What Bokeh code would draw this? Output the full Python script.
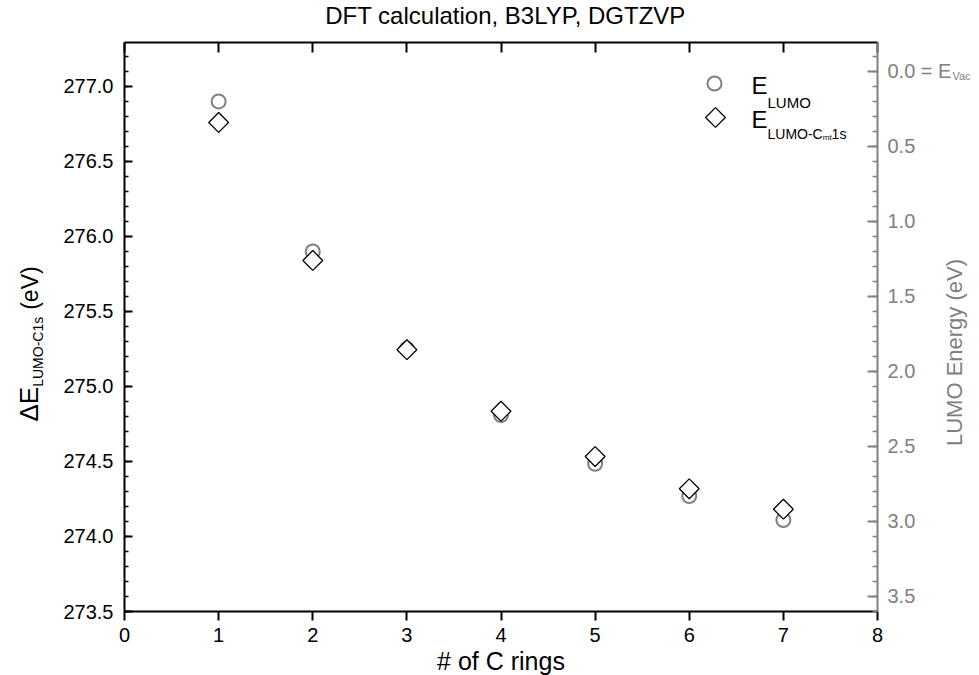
import math
from bokeh.plotting import figure
from bokeh.models import (Range1d, LinearAxis, Label, SingleIntervalTicker,
                          FixedTicker, PrintfTickFormatter)
from bokeh.embed import file_html
from bokeh.resources import INLINE

# ---------------- data ----------------
n_rings = [1, 2, 3, 4, 5, 6, 7]
e_lumo = [0.20, 1.20, 1.85, 2.29, 2.615, 2.83, 2.99]                 # right axis (eV below vacuum)
de_lumo_c1s = [276.76, 275.84, 275.245, 274.835, 274.533, 274.318, 274.182]  # left axis
x_ticks = [0, 1, 2, 3, 4, 5, 6, 7, 8]

title_text = "DFT calculation, B3LYP, DGTZVP"
x_label = "# of C rings"
right_label = "LUMO Energy (eV)"

# ---------------- layout ----------------
W, H = 979, 675
FL, FT, FR, FB = 124, 42, 877, 611          # axis box edges in canvas px
X0, X1 = 0.0, 8.0
YL0, YL1 = 273.5, 277.293
YR0, YR1 = 3.6, -0.193                      # right axis: YR0 at bottom, YR1 at top

FONT = "Liberation Sans"
GRAY = "#808080"

# the frame fills the whole canvas; the axes are fixed at the box edges
sx_ = (X1 - X0) / (FR - FL)
syl = (YL1 - YL0) / (FB - FT)
syr = (YR1 - YR0) / (FB - FT)
xr = Range1d(X0 - FL * sx_, X1 + (W - FR) * sx_)
ylr = Range1d(YL0 - (H - FB) * syl, YL1 + FT * syl)
yrr = Range1d(start=YR0 - (H - FB) * syr, end=YR1 + FT * syr)

p = figure(width=W, height=H, x_range=xr, y_range=ylr,
           output_backend="svg", toolbar_location=None,
           x_axis_location=None, y_axis_location=None,
           min_border=0, min_border_left=0, min_border_right=0,
           min_border_top=0, min_border_bottom=0)
p.extra_y_ranges = {"lumo": yrr}
p.outline_line_color = None
p.grid.visible = False
p.background_fill_color = "white"
p.border_fill_color = "white"

# bottom axis
xa = LinearAxis(ticker=FixedTicker(ticks=x_ticks), fixed_location=YL0, bounds=(X0, X1),
                major_tick_in=0, major_tick_out=9, minor_tick_line_color=None,
                axis_line_width=2, major_tick_line_width=2, major_label_standoff=7,
                major_label_text_font=FONT, major_label_text_font_size="20px",
                major_label_text_color="black")
p.add_layout(xa, "below")

# top axis (ticks only)
ta = LinearAxis(ticker=FixedTicker(ticks=x_ticks), fixed_location=YL1, bounds=(X0, X1),
                major_tick_in=10, major_tick_out=0, minor_tick_line_color=None,
                axis_line_width=2, major_tick_line_width=2,
                major_label_overrides={t: "" for t in x_ticks},
                major_label_text_font_size="1px", major_label_standoff=0)
p.add_layout(ta, "above")

# left axis
ya = LinearAxis(ticker=SingleIntervalTicker(interval=0.5, num_minor_ticks=5),
                formatter=PrintfTickFormatter(format="%.1f"),
                fixed_location=X0, bounds=(YL0, YL1),
                major_tick_in=8, major_tick_out=0, minor_tick_in=4, minor_tick_out=0,
                axis_line_width=2, major_tick_line_width=2, minor_tick_line_width=1.5,
                major_label_standoff=11, major_label_text_font=FONT,
                major_label_text_font_size="20px", major_label_text_color="black")
p.add_layout(ya, "left")

# right axis (gray, inverted)
ra = LinearAxis(y_range_name="lumo",
                ticker=SingleIntervalTicker(interval=0.5, num_minor_ticks=5),
                formatter=PrintfTickFormatter(format="%.1f"),
                major_label_overrides={0: "0.0 = E"},
                fixed_location=X1, bounds=(min(YR0, YR1), max(YR0, YR1)),
                major_tick_in=10, major_tick_out=0, minor_tick_in=5, minor_tick_out=0,
                axis_line_color=GRAY, major_tick_line_color=GRAY, minor_tick_line_color=GRAY,
                axis_line_width=2, major_tick_line_width=2, minor_tick_line_width=1.5,
                major_label_standoff=10, major_label_text_font=FONT,
                major_label_text_font_size="20px", major_label_text_color=GRAY)
p.add_layout(ra, "right")

# ---------------- data marks ----------------
p.scatter(n_rings, e_lumo, y_range_name="lumo", marker="circle", size=14,
          line_color=GRAY, line_width=2, fill_color=None)
p.scatter(n_rings, de_lumo_c1s, marker="square", angle=math.pi / 4, size=14,
          line_color="black", line_width=1.3, fill_color="white")

# ---------------- helpers ----------------
AW = {' ': 278, '(': 333, ')': 333, '-': 333, '.': 278, '=': 584, '#': 556,
      'A': 667, 'B': 667, 'C': 722, 'D': 722, 'E': 667, 'F': 611, 'G': 778, 'L': 556,
      'M': 833, 'O': 778, 'P': 667, 'T': 611, 'U': 722, 'V': 667, 'Y': 667, 'Z': 611,
      'a': 556, 'c': 500, 'e': 556, 'f': 278, 'g': 556, 'i': 222, 'l': 222, 'm': 833,
      'n': 556, 'o': 556, 'r': 333, 's': 500, 't': 278, 'u': 556, 'y': 500, 'Δ': 668}
for d in "0123456789":
    AW[d] = 556

BL = 0.35   # observed baseline shift of the svg text, as a fraction of font size


def tw(text, size):
    return sum(AW.get(c, 556) for c in text) * size / 1000.0


def lab(text, cx, cy, size, color="black", align="left", baseline="alphabetic", angle=0.0):
    if baseline == "alphabetic":
        if angle == 0.0:
            cy -= BL * size
        else:
            cx -= BL * size
    p.add_layout(Label(x=cx, y=H - cy, x_units="screen", y_units="screen",
                       text=text, text_font=FONT, text_font_size=f"{size}px",
                       text_color=color, text_align=align, text_baseline=baseline,
                       angle=angle))


def x_at(cx):
    return xr.start + cx * sx_


def yl_at(cy):
    return ylr.start + (H - cy) * syl


def yr_at(cy):
    return yrr.start + (H - cy) * syr


# title and axis labels
lab(title_text, 505, 23, 24, align="center")
lab(x_label, (FL + FR) / 2, 669, 25, align="center")
lab(right_label, 954, 352, 22, color=GRAY, align="center", baseline="middle", angle=math.pi / 2)

# left axis label: ΔE_{LUMO-C1s} (eV), rotated
y0 = 421
lab("ΔE", 38, y0, 26, angle=math.pi / 2)
y0 -= tw("ΔE", 26)
lab("LUMO-C1s", 42, y0, 14, angle=math.pi / 2)
y0 -= tw("LUMO-C1s", 14) + 7
lab("(eV)", 38, y0, 23, angle=math.pi / 2)

# right tick label subscript "Vac"
lab("Vac", FR + 10 + tw("0.0 = E", 20) + 1, 79, 11, color=GRAY)

# legend
p.scatter([x_at(714)], [yr_at(83)], y_range_name="lumo", marker="circle", size=14,
          line_color=GRAY, line_width=2, fill_color=None)
p.scatter([x_at(715)], [yl_at(117)], marker="square", angle=math.pi / 4, size=14,
          line_color="black", line_width=1.3, fill_color="white")
ex = 751
lab("E", ex, 93, 24)
lab("LUMO", ex + tw("E", 24), 107, 15)
lab("E", ex, 127, 24)
sx = ex + tw("E", 24)
lab("LUMO-C", sx, 138, 14)
sx += tw("LUMO-C", 14)
lab("mt", sx, 140, 8)
sx += tw("mt", 8)
lab("1s", sx, 138, 14)

open("out.html", "w").write(file_html(p, INLINE))
